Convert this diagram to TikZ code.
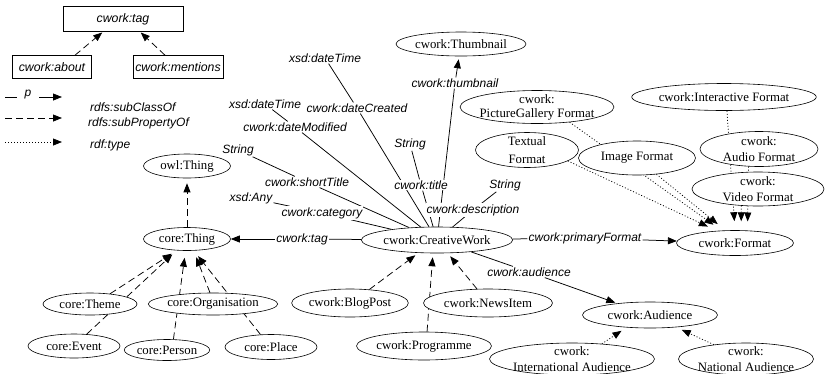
\documentclass[tikz,border=0pt]{standalone}
\usepackage{fontspec}
\setmainfont{Liberation Serif}
\setsansfont{Liberation Sans}
\usetikzlibrary{shapes.geometric,arrows.meta,backgrounds}

\tikzset{
  sz/.style 2 args={minimum width=#1, minimum height=#2},
  cls/.style={ellipse, draw, line width=0.6pt, fill=white, inner sep=0pt,
    align=center, font=\fontsize{12.8}{15.5}\selectfont},
  twoline/.style={inner ysep=-6pt, inner xsep=-3pt},
  prop/.style={inner sep=1pt, fill=white, font=\sffamily\itshape\fontsize{12}{14}\selectfont},
  lit/.style={inner sep=1pt, font=\sffamily\itshape\fontsize{12}{14}\selectfont},
  termbox/.style={draw, line width=0.6pt, fill=white, inner sep=0pt,
    font=\sffamily\itshape\fontsize{12.3}{14}\selectfont},
  link/.style={line width=0.75pt},
  tip/.style={-{Triangle[length=9pt,width=7pt]}},
  subcls/.style={link, tip, dash pattern=on 7pt off 4pt},
  isa/.style={link, tip, dash pattern=on 1pt off 2pt},
}

\begin{document}
\begin{tikzpicture}[x=1pt,y=-1pt]
\useasboundingbox (0,0) rectangle (825,373);

% ---- property hierarchy boxes
\node[termbox, sz={120pt}{25pt}] (tagbox) at (123,19) {cwork:tag};
\node[termbox, sz={79pt}{23pt}] (about) at (52,67) {cwork:about};
\node[termbox, sz={90pt}{23pt}] (mentions) at (178,67) {cwork:mentions};

% ---- legend
\coordinate (la) at (5,97);
\coordinate (lb) at (17,97);
\node[lit, inner sep=0pt] (lp) at (28,95) {p};
\coordinate (lc) at (39,97);
\coordinate (ld) at (62,97);
\coordinate (le) at (5,118);
\coordinate (lf) at (62,118);
\coordinate (lg) at (5,142);
\coordinate (lh) at (62,142);
\node[lit, anchor=west] (lsc) at (89,107) {rdfs:subClassOf};
\node[lit, anchor=west] (lsp) at (87,123) {rdfs:subPropertyOf};
\node[lit, anchor=west] (lty) at (89,145) {rdf:type};

% ---- classes
\node[cls, sz={87pt}{24pt}] (owl) at (187,166) {owl:Thing};
\node[cls, sz={87pt}{23pt}] (thing) at (187,239) {core:Thing};
\node[cls, sz={94pt}{22pt}] (theme) at (90,304) {core:Theme};
\node[cls, sz={120pt}{22pt}] (org) at (213,304) {core:Organisation};
\node[cls, sz={92pt}{24pt}] (event) at (74,346) {core:Event};
\node[cls, sz={85pt}{21pt}] (person) at (167,350) {core:Person};
\node[cls, sz={92pt}{25pt}] (place) at (271,347) {core:Place};

\node[cls, sz={146pt}{26pt}] (cw) at (437,240) {cwork:CreativeWork};
\node[cls, sz={114pt}{28pt}] (blog) at (350,303) {cwork:BlogPost};
\node[cls, sz={129pt}{28pt}] (news) at (488,303) {cwork:NewsItem};
\node[cls, sz={135pt}{28pt}] (prog) at (424,346) {cwork:Programme};
\node[cls, sz={130pt}{24pt}] (thumb) at (461,44) {cwork:Thumbnail};

\node[cls, twoline, sz={133pt}{33pt}, font=\fontsize{12.8}{14}\selectfont] (pgf) at (537,107) {cwork:\\PictureGallery Format};
\node[cls, sz={177pt}{27pt}] (intf) at (724,97) {cwork:Interactive Format};
\node[cls, twoline, sz={103pt}{35pt}, font=\fontsize{12.8}{17.5}\selectfont] (textf) at (527,150) {Textual\\Format};
\node[cls, sz={117pt}{34pt}] (imgf) at (637,158) {Image Format};
\node[cls, twoline, sz={118pt}{35pt}] (audf) at (759,149) {cwork:\\Audio Format};
\node[cls, twoline, sz={132pt}{34pt}] (vidf) at (758,189) {cwork:\\Video Format};
\node[cls, sz={117pt}{25pt}] (fmt) at (735,243) {cwork:Format};

\node[cls, sz={135pt}{26pt}] (aud) at (650,315) {cwork:Audience};
\node[cls, twoline, sz={165pt}{32pt}] (intaud) at (572,359) {cwork:\\International Audience};
\node[cls, twoline, sz={135pt}{32pt}] (nataud) at (746,359) {cwork:\\National Audience};

% ---- property labels and literal ranges
\node[lit] (dtA) at (325,58) {xsd:dateTime};
\node[prop] (dC) at (357,108) {cwork:dateCreated};
\node[lit] (dtB) at (265,104) {xsd:dateTime};
\node[prop] (dM) at (295,127) {cwork:dateModified};
\node[lit] (strA) at (238,150) {String};
\node[prop] (sT) at (307,182) {cwork:shortTitle};
\node[lit] (any) at (251,198) {xsd:Any};
\node[prop] (cat) at (322,213) {cwork:category};
\node[lit] (strB) at (410,144) {String};
\node[prop] (title) at (421,185) {cwork:title};
\node[lit] (strC) at (505,185) {String};
\node[prop] (desc) at (473,210) {cwork:description};
\node[prop] (thl) at (455,83) {cwork:thumbnail};
\node[prop] (tagl) at (302,239) {cwork:tag};
\node[prop] (pfl) at (585,238) {cwork:primaryFormat};
\node[prop] (audl) at (529,272) {cwork:audience};

\begin{pgfonlayer}{background}
  % legend strokes
  \draw[link] (la) -- (lb);
  \draw[link, tip] (lc) -- (ld);
  \draw[subcls] (le) -- (lf);
  \draw[isa] (lg) -- (lh);

  % sub-properties of cwork:tag
  \draw[subcls, shorten >=1pt] ([xshift=23pt]about.north) -- ([xshift=-20pt]tagbox.south);
  \draw[subcls, shorten >=1pt] ([xshift=-13pt]mentions.north) -- ([xshift=17pt]tagbox.south);

  % literal-valued properties
  \draw[link] (cw) -- (dC);    \draw[link] (dC) -- (dtA);
  \draw[link] (cw) -- (dM);    \draw[link] (dM) -- (dtB);
  \draw[link] (cw) -- (sT);    \draw[link] (sT) -- (strA);
  \draw[link] (cw) -- (cat);   \draw[link] (cat) -- (any);
  \draw[link] (cw) -- (title); \draw[link] (title) -- (strB);
  \draw[link] (cw) -- (desc);  \draw[link] (desc) -- (strC);

  % object properties
  \draw[link] (cw) -- (thl);   \draw[link, tip, shorten >=3pt] (thl) -- (thumb);
  \draw[link] (cw) -- (tagl);  \draw[link, tip] (tagl) -- (thing);
  \draw[link] (cw) -- (pfl);   \draw[link, tip] (pfl) -- (fmt);
  \draw[link] (cw) -- (audl);  \draw[link, tip, shorten >=2pt] (audl) -- (aud);

  % subclass links
  \draw[subcls, shorten >=5pt] (thing) -- (owl);
  \draw[subcls, shorten >=6pt] (theme.27) -- (thing.228);
  \draw[subcls, shorten >=6pt] (event.43) -- (thing.228);
  \draw[subcls, shorten >=7pt] (person.59) -- (thing.263);
  \draw[subcls, shorten >=7pt] (org.105) -- (thing.300);
  \draw[subcls, shorten >=7pt] (place.130) -- (thing.300);
  \draw[subcls, shorten >=4pt] (blog.35) -- (cw.215);
  \draw[subcls, shorten >=4pt] (prog.78) -- (cw.253);
  \draw[subcls, shorten >=4pt] (news.128) -- (cw.309);

  % format instances
  \draw[isa, shorten >=10pt] (textf.345) -- (fmt.146);
  \draw[isa, shorten >=10pt] (pgf.335) -- (fmt.137);
  \draw[isa, shorten >=10pt] (imgf.320) -- (fmt.127);
  \draw[isa, shorten >=9pt] (intf.282) -- (fmt.north);
  \draw[isa, shorten >=9pt] (audf.239) -- (fmt.45);
  \draw[isa, shorten >=9pt] (vidf.225) -- (fmt.64);

  % audience instances
  \draw[isa, shorten >=6pt] (intaud.27) -- (aud.208);
  \draw[isa, shorten >=6pt] (nataud.156) -- (aud.335);
\end{pgfonlayer}
\end{tikzpicture}
\end{document}
